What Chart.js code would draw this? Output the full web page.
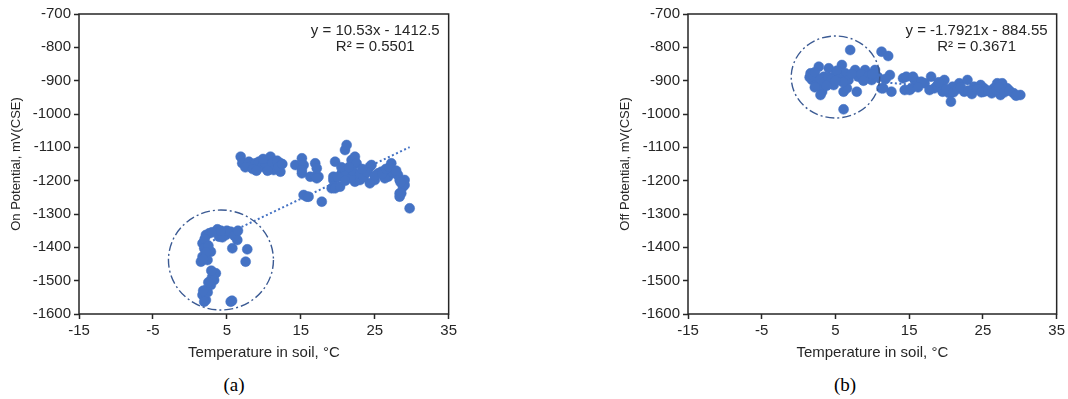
<!DOCTYPE html>
<html>
<head>
<meta charset="utf-8">
<script src="https://cdn.jsdelivr.net/npm/chart.js@4/dist/chart.umd.min.js"></script>
<style>
  html, body { margin: 0; padding: 0; background: #fff; }
  #wrap { position: relative; width: 1068px; height: 399px; overflow: hidden; }
  .panel { position: absolute; top: 0; }
  .cap { position: absolute; top: 374px; width: 100px; text-align: center;
         font: 19px "Liberation Serif", "Times New Roman", serif; color: #000; line-height: 22px; }
</style>
</head>
<body>
<div id="wrap">
  <div class="panel" style="left:0;"><canvas id="onChart" width="460" height="370"></canvas></div>
  <div class="panel" style="left:609px;"><canvas id="offChart" width="459" height="370"></canvas></div>
  <div class="cap" style="left:184px;">(a)</div>
  <div class="cap" style="left:795px;">(b)</div>
</div>
<script>
// Axis ticks shared by both panels
const X_TICKS = [-15, -5, 5, 15, 25, 35];
const Y_TICKS = [-1600, -1500, -1400, -1300, -1200, -1100, -1000, -900, -800, -700];

// (a) On potential vs soil temperature
const onTemp = [
  2.16, 2.61, 3.72, 3.95, 4.85, 5.52, 6.2, 6.41, 5.74, 1.71, 1.94, 2.84, 1.71, 1.49, 2.38,
  7.76, 7.54, 3.51, 3.28, 2.84, 2.16, 1.71, 2.16, 1.94, 5.52, 3.0, 4.4, 5.0, 6.0, 2.0,
  2.5, 2.2, 1.8, 3.0, 2.5, 2.4, 1.8, 5.7, 4.2, 6.5, 2.9,
  6.87, 7.08, 7.98, 8.21, 8.88, 9.33, 9.77, 10.23, 10.9, 11.12, 11.34, 12.24, 12.24, 14.26, 15.15,
  15.38, 15.15, 16.28, 16.95, 17.16, 16.95, 17.39, 15.38, 15.82, 17.84, 19.41, 19.18, 19.64, 20.52, 20.98,
  21.2, 21.87, 22.32, 21.65, 22.77, 22.32, 23.67, 24.34, 25.01, 25.9, 27.24, 26.8, 27.7, 28.37, 29.04,
  28.37, 28.37, 29.72, 22.54, 19.41, 19.64, 20.31, 20.98, 21.87, 23.0, 24.34, 24.56, 25.46, 26.36, 27.47,
  28.15, 29.04, 28.82, 28.59, 16.05, 15.15, 17.16, 7.5, 8.5, 9.9, 10.5, 11.8, 12.0, 12.5, 9.0,
  20.0, 21.0, 22.0, 23.0, 23.5, 24.0, 25.0, 26.0, 26.5, 27.0, 27.9, 28.5, 20.5, 21.5, 23.3
];
const onPotential = [
  -1363, -1358, -1346, -1368, -1363, -1353, -1358, -1378, -1403, -1388, -1403, -1413, -1428, -1443, -1438,
  -1406, -1443, -1478, -1498, -1513, -1528, -1543, -1558, -1563, -1563, -1355, -1370, -1350, -1365, -1375,
  -1395, -1415, -1435, -1490, -1505, -1535, -1530, -1560, -1350, -1350, -1470,
  -1128, -1148, -1143, -1158, -1148, -1143, -1158, -1148, -1128, -1148, -1168, -1148, -1173, -1153, -1133,
  -1153, -1178, -1188, -1148, -1163, -1188, -1188, -1243, -1248, -1263, -1198, -1223, -1143, -1178, -1108,
  -1093, -1138, -1128, -1178, -1188, -1203, -1178, -1158, -1198, -1173, -1148, -1188, -1178, -1198, -1213,
  -1238, -1248, -1283, -1148, -1188, -1223, -1218, -1183, -1193, -1198, -1208, -1153, -1178, -1193, -1173,
  -1183, -1198, -1218, -1238, -1248, -1168, -1193, -1160, -1165, -1135, -1170, -1140, -1160, -1150, -1170,
  -1190, -1200, -1170, -1180, -1190, -1175, -1185, -1180, -1165, -1160, -1170, -1205, -1160, -1160, -1165
];
const onFit = [10.53, -1412.5];   // slope, intercept
const onR2 = 0.5501;
const onRing = [4.2, -1438, 7.1, 150]; // centre x, centre y, half-width (°C), half-height (mV)

// (b) Off potential vs soil temperature
const offTemp = [
  7.0, 11.25, 12.15, 2.74, 4.09, 5.87, 7.67, 9.02, 10.36, 1.63, 1.84, 2.51, 3.41, 4.99, 6.33,
  6.77, 8.12, 9.91, 3.19, 2.97, 4.76, 6.1, 7.89, 11.25, 12.38, 12.59, 14.17, 14.39, 6.1, 2.74,
  6.55, 11.48, 14.61, 15.74, 17.08, 17.97, 19.31, 20.44, 20.66, 21.79, 22.9, 23.8, 25.15, 26.94, 28.28,
  15.28, 18.43, 15.51, 15.07, 16.63, 17.76, 19.77, 19.54, 20.89, 22.46, 23.8, 24.69, 25.15, 26.49, 27.61,
  27.38, 29.18, 30.07,
  1.5, 2.0, 2.2, 3.0, 3.5, 4.0, 4.5, 5.2, 5.5, 6.0, 7.2, 8.5, 9.5, 10.8, 2.2,
  3.8, 5.0, 8.8, 10.0, 11.8, 20.0, 21.0, 21.5, 22.0, 23.0, 23.5, 24.2, 24.8, 25.7, 26.2,
  26.8, 27.2, 27.9, 28.6, 29.5, 18.8, 16.2, 19.0
];
const offPotential = [
  -808, -813, -826, -858, -863, -853, -868, -868, -868, -878, -898, -908, -888, -883, -878,
  -898, -888, -898, -933, -943, -913, -933, -933, -923, -883, -933, -893, -928, -986, -913,
  -923, -923, -888, -898, -908, -888, -918, -938, -963, -908, -898, -918, -923, -908, -923,
  -923, -923, -888, -928, -903, -928, -898, -933, -918, -933, -928, -913, -933, -923, -908,
  -943, -938, -943,
  -890, -885, -875, -895, -905, -890, -895, -870, -895, -905, -880, -880, -885, -890, -920,
  -915, -900, -900, -880, -895, -925, -935, -925, -920, -930, -940, -925, -935, -930, -938,
  -928, -920, -935, -930, -945, -915, -920, -905
];
const offFit = [-1.7921, -884.55];
const offR2 = 0.3671;
const offRing = [5.0, -889, 6.0, 123];

const FONT = '"Liberation Sans", Arial, sans-serif';
const TXT = '#262626';
const AXIS = '#262626';
const MARK = '#4472C4';
const RING = '#3B5A93';

function equationText(fit) {
  const [m, b] = fit;
  return 'y = ' + m + 'x ' + (b < 0 ? '- ' : '+ ') + Math.abs(b);
}

// Frame, regression label and dash-dot ring drawn over the plot area
const overlay = {
  id: 'overlay',
  afterDatasetsDraw(chart, args, opts) {
    const { ctx, chartArea: a, scales: { x, y } } = chart;
    ctx.save();
    // dash-dot ring around the low-temperature group
    const [cx, cy, rx, ry] = opts.ring;
    const px = x.getPixelForValue(cx), py = y.getPixelForValue(cy);
    const prx = Math.abs(x.getPixelForValue(cx + rx) - px);
    const pry = Math.abs(y.getPixelForValue(cy + ry) - py);
    ctx.beginPath();
    ctx.setLineDash([9, 3, 2, 3]);
    ctx.lineWidth = 1.4;
    ctx.strokeStyle = RING;
    ctx.ellipse(px, py, prx, pry, 0, 0, Math.PI * 2);
    ctx.stroke();
    ctx.setLineDash([]);
    // plot frame
    ctx.lineWidth = 1.5;
    ctx.strokeStyle = AXIS;
    ctx.strokeRect(a.left, a.top, a.right - a.left, a.bottom - a.top);
    // regression label
    ctx.font = '15px ' + FONT;
    ctx.fillStyle = TXT;
    ctx.textAlign = 'center';
    ctx.textBaseline = 'middle';
    const l1 = equationText(opts.fit);
    const l2 = 'R\u00B2 = ' + opts.r2.toFixed(4);
    const w = ctx.measureText(l1).width;
    const c = a.right - 9 - w / 2;
    ctx.fillText(l1, c, a.top + 17);
    ctx.fillText(l2, c, a.top + 33);
    ctx.restore();
  }
};

function buildChart(id, temps, pots, fit, r2, ring, yTitle, rightPad) {
  const points = temps.map((t, i) => ({ x: t, y: pots[i] }));
  const lo = Math.min(...temps), hi = Math.max(...temps);
  const trend = [lo, hi].map(t => ({ x: t, y: fit[0] * t + fit[1] }));
  return new Chart(document.getElementById(id), {
    type: 'scatter',
    data: {
      datasets: [
        { data: points, backgroundColor: MARK, borderColor: MARK, borderWidth: 0.5,
          pointRadius: 5, pointHoverRadius: 5, order: 1 },
        { type: 'line', data: trend, borderColor: MARK, borderWidth: 2, borderDash: [2, 2.5],
          pointRadius: 0, fill: false, order: 2 }
      ]
    },
    options: {
      responsive: false,
      animation: false,
      layout: { padding: { top: 14, right: rightPad, left: 0, bottom: 0 } },
      plugins: { legend: { display: false }, tooltip: { enabled: false },
                 overlay: { fit, r2, ring } },
      scales: {
        x: {
          type: 'linear', min: -15, max: 35,
          afterBuildTicks(s) { s.ticks = X_TICKS.map(v => ({ value: v })); },
          ticks: { color: TXT, font: { family: FONT, size: 15 }, padding: 3, autoSkip: false,
                   maxRotation: 0, callback: v => String(v) },
          grid: { drawOnChartArea: false, drawTicks: true, tickLength: 5, tickColor: AXIS, tickWidth: 1.5 },
          border: { display: false },
          title: { display: true, text: 'Temperature in soil, \u00B0C', color: TXT,
                   font: { family: FONT, size: 15 }, padding: { top: 0, bottom: 8 } },
          afterFit(s) { s.height = 56; }
        },
        y: {
          type: 'linear', min: -1600, max: -700,
          afterBuildTicks(s) { s.ticks = Y_TICKS.map(v => ({ value: v })); },
          ticks: { color: TXT, font: { family: FONT, size: 15 }, padding: 3, autoSkip: false,
                   callback: v => String(v) },
          grid: { drawOnChartArea: false, drawTicks: true, tickLength: 5, tickColor: AXIS, tickWidth: 1.5 },
          border: { display: false },
          title: { display: true, text: yTitle, color: TXT,
                   font: { family: FONT, size: 13 }, padding: { top: 9, bottom: 0 } },
          afterFit(s) { s.width = 79; }
        }
      }
    },
    plugins: [overlay]
  });
}

buildChart('onChart', onTemp, onPotential, onFit, onR2, onRing, 'On Potential, mV(CSE)', 10);
buildChart('offChart', offTemp, offPotential, offFit, offR2, offRing, 'Off Potential, mV(CSE)', 8);
</script>
</body>
</html>
